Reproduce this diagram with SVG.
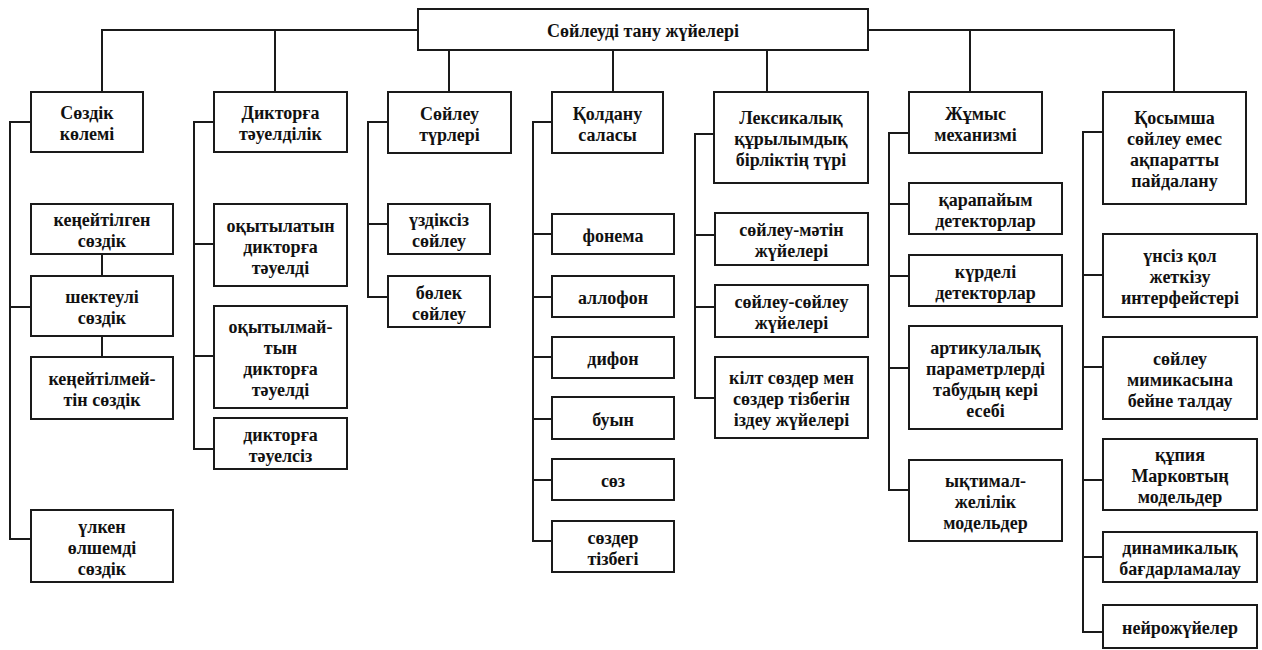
<svg xmlns="http://www.w3.org/2000/svg" width="1262" height="650" viewBox="0 0 1262 650">
<style>
.box{fill:#fff;stroke:#1a1a1a;stroke-width:2}
.t{font-family:"Liberation Serif","Times New Roman",serif;font-weight:bold;font-size:18px;text-anchor:middle;fill:#111}
.c{fill:none;stroke:#1a1a1a;stroke-width:2}
</style>
<rect width="1262" height="650" fill="#fff"/>
<g id="connectors" class="c">
<path d="M102,92V30H418M868,30H1174V92M275,30V92M970,30V92M449,50V92M613,50V92M767,50V92"/>
<path d="M31,122H10V539H31M10,307H31M102,254V276M102,336V357"/>
<path d="M214,122H194V449H214M194,244H214M194,356H214"/>
<path d="M388,122H368V297H388M368,224H388"/>
<path d="M552,122H533V541H552M533,234H552M533,297H552M533,357H552M533,419H552M533,480H552"/>
<path d="M714,134H695V398H715M695,235H715M695,307H715"/>
<path d="M909,133H889V490H909M889,204H909M889,276H909M889,368H909"/>
<path d="M1103,132H1083V632H1103M1083,275H1103M1083,367H1103M1083,480H1103M1083,557H1103"/>
</g>
<g id="root"><rect class="box" x="418" y="9" width="450" height="41"/><text class="t" x="643" y="37">Сөйлеуді тану жүйелері</text></g>
<g id="n1"><rect class="box" x="31" y="92" width="112" height="60"/><text class="t" x="87" y="119">Сөздік</text><text class="t" x="87" y="140">көлемі</text></g>
<g id="n2"><rect class="box" x="214" y="92" width="133" height="60"/><text class="t" x="280.5" y="119">Дикторға</text><text class="t" x="280.5" y="140">тәуелділік</text></g>
<g id="n3"><rect class="box" x="388" y="92" width="123" height="61"/><text class="t" x="449.5" y="119.5">Сөйлеу</text><text class="t" x="449.5" y="140.5">түрлері</text></g>
<g id="n4"><rect class="box" x="552" y="92" width="111" height="61"/><text class="t" x="607.5" y="119.5">Қолдану</text><text class="t" x="607.5" y="140.5">саласы</text></g>
<g id="n5"><rect class="box" x="714" y="92" width="154" height="91"/><text class="t" x="791" y="124">Лексикалық</text><text class="t" x="791" y="145">құрылымдық</text><text class="t" x="791" y="166">бірліктің түрі</text></g>
<g id="n6"><rect class="box" x="909" y="92" width="133" height="61"/><text class="t" x="975.5" y="119.5">Жұмыс</text><text class="t" x="975.5" y="140.5">механизмі</text></g>
<g id="n7"><rect class="box" x="1103" y="92" width="143" height="112"/><text class="t" x="1174.5" y="124">Қосымша</text><text class="t" x="1174.5" y="145">сөйлеу емес</text><text class="t" x="1174.5" y="166">ақпаратты</text><text class="t" x="1174.5" y="187">пайдалану</text></g>

<g id="n1a"><rect class="box" x="31" y="204" width="142" height="50"/><text class="t" x="102" y="226">кеңейтілген</text><text class="t" x="102" y="247">сөздік</text></g>
<g id="n1b"><rect class="box" x="31" y="276" width="142" height="60"/><text class="t" x="102" y="303">шектеулі</text><text class="t" x="102" y="324">сөздік</text></g>
<g id="n1c"><rect class="box" x="31" y="357" width="142" height="62"/><text class="t" x="102" y="385">кеңейтілмей-</text><text class="t" x="102" y="406">тін сөздік</text></g>
<g id="n1d"><rect class="box" x="31" y="510" width="142" height="72"/><text class="t" x="102" y="532.5">үлкен</text><text class="t" x="102" y="553.5">өлшемді</text><text class="t" x="102" y="574.5">сөздік</text></g>

<g id="n2a"><rect class="box" x="214" y="204" width="133" height="82"/><text class="t" x="280.5" y="231.5">оқытылатын</text><text class="t" x="280.5" y="252.5">дикторға</text><text class="t" x="280.5" y="273.5">тәуелді</text></g>
<g id="n2b"><rect class="box" x="214" y="306" width="133" height="102"/><text class="t" x="280.5" y="333">оқытылмай-</text><text class="t" x="280.5" y="354">тын</text><text class="t" x="280.5" y="375">дикторға</text><text class="t" x="280.5" y="396">тәуелді</text></g>
<g id="n2c"><rect class="box" x="214" y="418" width="133" height="51"/><text class="t" x="280.5" y="440.5">дикторға</text><text class="t" x="280.5" y="461.5">тәуелсіз</text></g>

<g id="n3a"><rect class="box" x="388" y="204" width="102" height="50"/><text class="t" x="439" y="226">үздіксіз</text><text class="t" x="439" y="247">сөйлеу</text></g>
<g id="n3b"><rect class="box" x="388" y="276" width="102" height="51"/><text class="t" x="439" y="298.5">бөлек</text><text class="t" x="439" y="319.5">сөйлеу</text></g>

<g id="n4a"><rect class="box" x="552" y="214" width="122" height="40"/><text class="t" x="613" y="241.5">фонема</text></g>
<g id="n4b"><rect class="box" x="552" y="276" width="122" height="41"/><text class="t" x="613" y="304">аллофон</text></g>
<g id="n4c"><rect class="box" x="552" y="337" width="122" height="41"/><text class="t" x="613" y="365">дифон</text></g>
<g id="n4d"><rect class="box" x="552" y="397" width="122" height="42"/><text class="t" x="613" y="425.5">буын</text></g>
<g id="n4e"><rect class="box" x="552" y="459" width="122" height="41"/><text class="t" x="613" y="487">сөз</text></g>
<g id="n4f"><rect class="box" x="552" y="521" width="122" height="51"/><text class="t" x="613" y="543.5">сөздер</text><text class="t" x="613" y="564.5">тізбегі</text></g>

<g id="n5a"><rect class="box" x="715" y="213" width="153" height="52"/><text class="t" x="791.5" y="236">сөйлеу-мәтін</text><text class="t" x="791.5" y="257">жүйелері</text></g>
<g id="n5b"><rect class="box" x="715" y="285" width="153" height="52"/><text class="t" x="791.5" y="308">сөйлеу-сөйлеу</text><text class="t" x="791.5" y="329">жүйелері</text></g>
<g id="n5c"><rect class="box" x="715" y="357" width="153" height="81"/><text class="t" x="791.5" y="384">кілт сөздер мен</text><text class="t" x="791.5" y="405">сөздер тізбегін</text><text class="t" x="791.5" y="426">іздеу жүйелері</text></g>

<g id="n6a"><rect class="box" x="909" y="183" width="153" height="51"/><text class="t" x="985.5" y="205.5">қарапайым</text><text class="t" x="985.5" y="226.5">детекторлар</text></g>
<g id="n6b"><rect class="box" x="909" y="255" width="153" height="51"/><text class="t" x="985.5" y="277.5">күрделі</text><text class="t" x="985.5" y="298.5">детекторлар</text></g>
<g id="n6c"><rect class="box" x="909" y="326" width="153" height="103"/><text class="t" x="985.5" y="353.5">артикулалық</text><text class="t" x="985.5" y="374.5">параметрлерді</text><text class="t" x="985.5" y="395.5">табудың кері</text><text class="t" x="985.5" y="416.5">есебі</text></g>
<g id="n6d"><rect class="box" x="909" y="460" width="153" height="81"/><text class="t" x="985.5" y="487">ықтимал-</text><text class="t" x="985.5" y="508">желілік</text><text class="t" x="985.5" y="529">модельдер</text></g>

<g id="n7a"><rect class="box" x="1103" y="234" width="154" height="83"/><text class="t" x="1180" y="262">үнсіз қол</text><text class="t" x="1180" y="283">жеткізу</text><text class="t" x="1180" y="304">интерфейстері</text></g>
<g id="n7b"><rect class="box" x="1103" y="337" width="154" height="82"/><text class="t" x="1180" y="364.5">сөйлеу</text><text class="t" x="1180" y="385.5">мимикасына</text><text class="t" x="1180" y="406.5">бейне талдау</text></g>
<g id="n7c"><rect class="box" x="1103" y="439" width="154" height="71"/><text class="t" x="1180" y="461">құпия</text><text class="t" x="1180" y="482">Марковтың</text><text class="t" x="1180" y="503">модельдер</text></g>
<g id="n7d"><rect class="box" x="1103" y="532" width="154" height="50"/><text class="t" x="1180" y="554">динамикалық</text><text class="t" x="1180" y="575">бағдарламалау</text></g>
<g id="n7e"><rect class="box" x="1103" y="605" width="154" height="43"/><text class="t" x="1180" y="633.5">нейрожүйелер</text></g>
</svg>
